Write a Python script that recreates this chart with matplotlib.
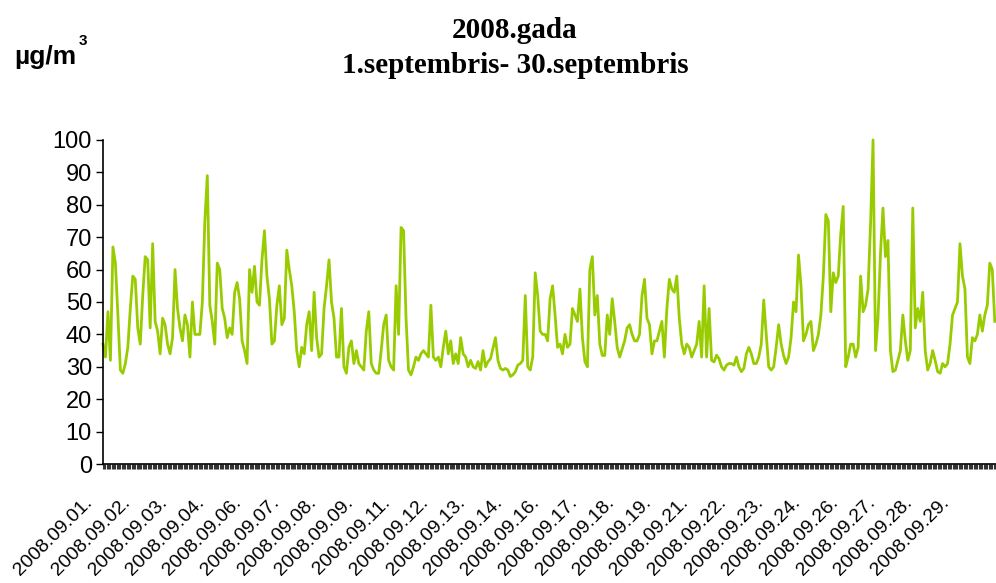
import matplotlib
matplotlib.use("Agg")
import matplotlib.pyplot as plt
import matplotlib.transforms as mtransforms
import numpy as np

# hourly PM10 readings, read every 2nd hour (12 values per day), Sept 2008
pm10 = [
    37, 33, 47, 32, 67, 62, 46, 29, 28, 31, 36, 48,          # 01
    58, 57, 42, 37, 52, 64, 63, 42, 68, 44, 41, 34,          # 02
    45, 43, 37, 34, 39, 60, 48, 42, 38, 46, 43, 33,          # 03
    50, 40, 40, 40, 50, 75, 89, 49, 44, 37, 62, 60,          # 04
    48, 45, 39, 42, 40, 53, 56, 51, 38, 35, 31, 60,          # 05
    53, 61, 50, 49, 63, 72, 58, 51, 37, 38, 49, 55,          # 06
    43, 45, 66, 60, 55, 47, 35, 30, 36, 34, 43, 47,          # 07
    35, 53, 39, 33, 34, 48, 55, 63, 50, 45, 33, 33,          # 08
    48, 30, 28, 36, 38, 31, 35, 31, 30, 29, 41, 47,          # 09
    31, 29, 28, 28, 35, 43, 46, 32, 30, 29, 55, 40,          # 10
    73, 72, 45, 29, 27.5, 30, 33, 32, 34, 35, 34, 33,        # 11
    49, 33, 32, 33, 30, 36, 41, 34, 38, 31, 34, 31,          # 12
    39, 34, 33, 30, 32, 30, 29.5, 31.6, 29, 35, 30, 31.6,    # 13
    32.5, 35.7, 39, 32, 29.5, 29, 29.5, 29, 27, 27.5, 28.5, 30.5,  # 14
    31, 32, 52, 30, 29, 33, 59, 52, 41, 40, 40, 38,          # 15
    51, 55, 46, 36, 37, 34, 40, 36, 37, 48, 46, 44,          # 16
    54, 39, 31.6, 30, 60, 64, 46, 52, 37, 33.5, 33.5, 46,    # 17
    40, 51, 44, 36, 33, 35.5, 38, 42, 43, 40, 38, 38,        # 18
    40, 52, 57, 45, 43, 34, 38, 38, 41, 44, 33, 48,          # 19
    57, 54, 53, 58, 45, 37, 34, 37, 36, 33, 35, 37,          # 20
    44, 33, 55, 33, 48, 32, 31.5, 33.6, 32.5, 30, 29, 30.5,  # 21
    31, 31, 30.5, 33, 30, 28.5, 29.5, 34, 36, 34, 31, 31,    # 22
    33, 37, 50.6, 40, 30, 29, 30, 36, 43, 37, 33.5, 31,      # 23
    33, 39, 50, 47, 64.5, 55, 38, 40, 43, 44, 35, 37,        # 24
    40, 46, 58, 77, 75, 47, 59, 56, 58, 71, 79.5, 30,        # 25
    33, 37, 37, 33, 36, 58, 47, 49, 54, 74, 100, 35,         # 26
    45, 65, 79, 64, 69, 35, 28.5, 29, 32, 35, 46, 38,        # 27
    32, 35, 79, 42, 48, 44, 53, 35, 29, 31, 35, 32,          # 28
    28.5, 28, 31, 30, 31, 37, 46, 48, 50, 68, 58, 54,        # 29
    33, 31, 39, 38, 40, 46, 41, 46, 49, 62, 60, 44,          # 30
]
step_hours = 2
n_hours = 720

# category labels as Excel showed them (every 30th hour)
date_labels = ['2008.09.01.', '2008.09.02.', '2008.09.03.', '2008.09.04.',
               '2008.09.06.', '2008.09.07.', '2008.09.08.', '2008.09.09.',
               '2008.09.11.', '2008.09.12.', '2008.09.13.', '2008.09.14.',
               '2008.09.16.', '2008.09.17.', '2008.09.18.', '2008.09.19.',
               '2008.09.21.', '2008.09.22.', '2008.09.23.', '2008.09.24.',
               '2008.09.26.', '2008.09.27.', '2008.09.28.', '2008.09.29.']
label_every = 30

plt.rcParams['font.family'] = ['Liberation Sans', 'DejaVu Sans']

fig = plt.figure(figsize=(9.96, 5.83), dpi=100)
ax = fig.add_axes([0.1034, 0.2041, 0.8966, 0.5558])

x = np.arange(len(pm10)) * step_hours
ax.plot(x, pm10, color='#99cc00', linewidth=2.0, clip_on=False)

ax.set_xlim(0, n_hours - 1)
ax.set_ylim(0, 100)
ax.set_yticks(range(0, 101, 10))
ax.tick_params(axis='y', labelsize=17, length=5, width=1, direction='out', pad=3)

ax.set_xticks(np.arange(0, n_hours, label_every))
ax.set_xticklabels(date_labels, rotation=45, ha='right', va='top', fontsize=14)
ax.set_xticks(np.arange(n_hours), minor=True)
ax.tick_params(axis='x', which='both', length=3.8, width=0.8, color='#333333',
               direction='out', pad=18)
shift = mtransforms.ScaledTranslation(-7 / 100, 0, fig.dpi_scale_trans)
for lab in ax.get_xticklabels():
    lab.set_transform(lab.get_transform() + shift)

for side in ['top', 'right']:
    ax.spines[side].set_visible(False)
ax.spines['left'].set_linewidth(1.2)
ax.spines['bottom'].set_linewidth(1.2)

fig.text(0.517, 0.947, '2008.gada', ha='center', va='center',
         family='Liberation Serif', fontweight='bold', fontsize=21)
fig.text(0.517, 0.887, '1.septembris- 30.septembris', ha='center', va='center',
         family='Liberation Serif', fontweight='bold', fontsize=21)
fig.text(0.014, 0.902, 'µg/m', ha='left', va='center', fontweight='bold', fontsize=19)
fig.text(0.079, 0.93, '3', ha='left', va='center', fontweight='bold', fontsize=11)

fig.savefig('out.png', dpi=100)
